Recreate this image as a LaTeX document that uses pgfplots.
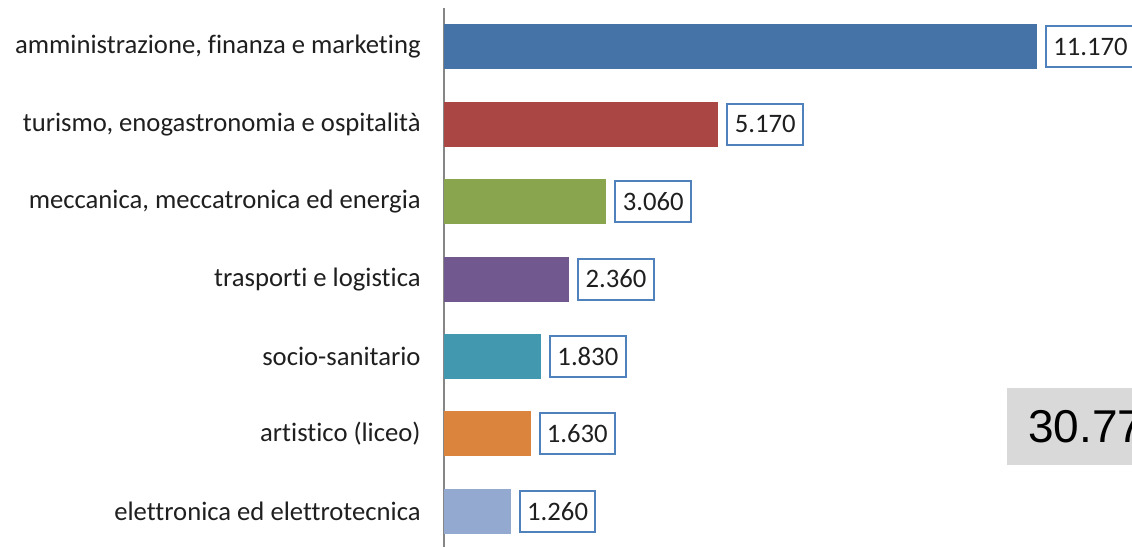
\documentclass[border=0pt]{standalone}
\usepackage{pgfplots}
\pgfplotsset{compat=1.18}
\usepackage{fontspec}
\setmainfont{Carlito}[Ligatures=NoCommon]
\newfontfamily\arialfont{Liberation Sans}
\definecolor{c1}{HTML}{4572A7}
\definecolor{c2}{HTML}{AA4643}
\definecolor{c3}{HTML}{89A54E}
\definecolor{c4}{HTML}{71588F}
\definecolor{c5}{HTML}{4198AF}
\definecolor{c6}{HTML}{DB843D}
\definecolor{c7}{HTML}{93A9CF}
\definecolor{boxblue}{HTML}{4F81BD}
\definecolor{axisgray}{HTML}{868686}
\definecolor{graybox}{HTML}{D9D9D9}
\begin{document}
\begin{tikzpicture}[x=1pt,y=1pt]
\begin{scope}
\clip (-333,0) rectangle (516,410.25);
\begin{axis}[
  at={(0,0)}, anchor=south west,
  scale only axis, width=516pt, height=404.25pt,
  xbar, bar width=33.75pt, bar shift=0pt,
  xmin=0, xmax=12959, ymin=-0.46, ymax=6.5,
  axis x line=none, axis y line*=left,
  y axis line style={draw=axisgray, line width=1.5pt},
  ytick={0,...,6},
  yticklabels={elettronica ed elettrotecnica, artistico (liceo), socio-sanitario, trasporti e logistica, {meccanica, meccatronica ed energia}, {turismo, enogastronomia e ospitalità}, {amministrazione, finanza e marketing}},
  major tick length=0pt,
  yticklabel style={font=\fontsize{20}{24}\selectfont, text=black!88, xshift=-14pt},
  clip=false,
  point meta=x,
  nodes near coords,
  nodes near coords style={font=\fontsize{20}{24}\selectfont, text=black!88, draw=boxblue, line width=1.5pt, fill=white, anchor=west, xshift=6pt, inner xsep=5.5pt, minimum height=30.75pt},
  /pgf/number format/fixed,
  /pgf/number format/precision=0,
  /pgf/number format/1000 sep={.},
  /pgf/number format/assume math mode=true,
]
\addplot[fill=c7, draw=none] coordinates {(1260,0)};
\addplot[fill=c6, draw=none] coordinates {(1630,1)};
\addplot[fill=c5, draw=none] coordinates {(1830,2)};
\addplot[fill=c4, draw=none] coordinates {(2360,3)};
\addplot[fill=c3, draw=none] coordinates {(3060,4)};
\addplot[fill=c2, draw=none] coordinates {(5170,5)};
\addplot[fill=c1, draw=none] coordinates {(11170,6)};
\node[fill=graybox, anchor=west, minimum height=57.75pt, inner xsep=15.75pt, inner ysep=0pt, font=\arialfont\fontsize{34.5}{40}\selectfont] at (axis cs:10605,1.09) {30.770};
\end{axis}
\end{scope}
\pgfresetboundingbox
\useasboundingbox (-333,0) rectangle (516,410.25);
\end{tikzpicture}
\end{document}
